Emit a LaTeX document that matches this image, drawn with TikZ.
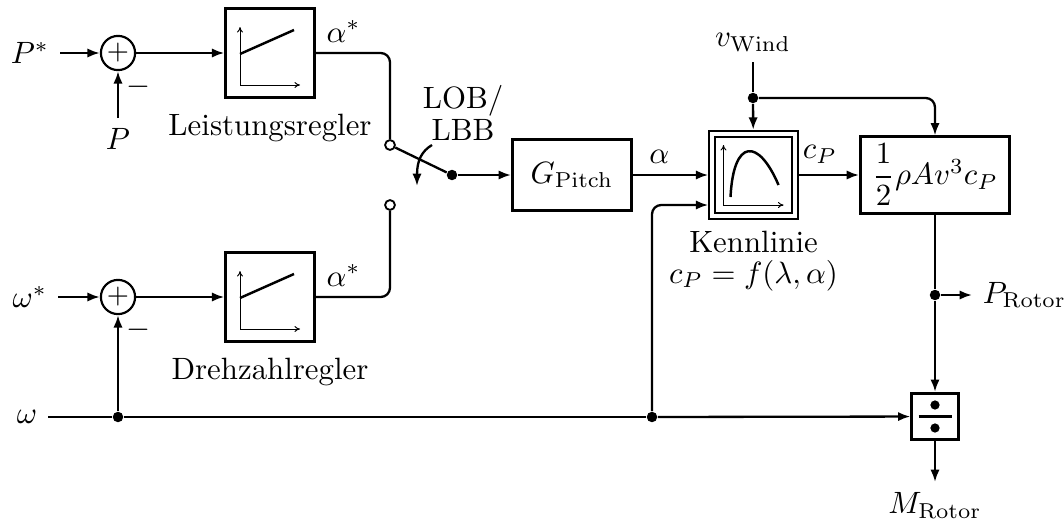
\documentclass[tikz,border=0pt]{standalone}
\usepackage{amsmath}
\usepackage{tikz}
\usetikzlibrary{arrows.meta,positioning,calc}
\tikzset{
  block/.style={
    draw,
    line width=0.9pt,
    inner sep=2pt,
  },
  regler/.style={
    block,
    minimum size=1.01cm,
  },
  kenn/.style={
    draw,
    double,
    line width=0.6pt,
    double distance=1.4pt,
    minimum size=0.94cm,
    outer sep=1.3pt,
  },
  sum/.style={
    draw,
    circle,
    line width=0.7pt,
    minimum size=0.39cm,
    inner sep=0pt,
    font=\small,
  },
  junction/.style={circle, fill, inner sep=0pt, minimum size=3.4pt},
  contact/.style={circle, draw, fill=white, line width=0.6pt, inner sep=0pt, minimum size=3.2pt},
  wire/.style={line width=0.75pt},
  arrow/.style={wire, -{Latex[length=4pt,width=3pt]}},
  achse/.style={line width=0.3pt, {To[length=1.8pt,width=2pt]}-{To[length=1.8pt,width=2pt]}},
  kurve/.style={line width=0.8pt},
}

\begin{document}
\begin{tikzpicture}[x=1.14cm,y=-1.14cm]
\useasboundingbox (0,0) rectangle (10.64,5.24);

% Leistungsregelung
\node[anchor=east] (Psoll) at (0.60,0.53) {$P^*$};
\node[sum] (sumP) at (1.18,0.53) {$+$};
\node[anchor=north] (Pist) at (1.18,1.18) {$P$};
\node (minP) at (1.38,0.87) {$-$};
\node[regler] (lr) at (2.70,0.53) {};
\node[below=0.5mm of lr] (lrlab) {Leistungsregler};
\node[anchor=south west] (alP) at (lr.east) {$\alpha^*$};

% Drehzahlregelung
\node[anchor=east] (omsoll) at (0.58,2.97) {$\omega^*$};
\node[sum] (sumW) at (1.18,2.97) {$+$};
\node (minW) at (1.38,3.30) {$-$};
\node[regler] (dr) at (2.70,2.97) {};
\node[below=0.5mm of dr] (drlab) {Drehzahlregler};
\node[anchor=south west] (alW) at (dr.east) {$\alpha^*$};

% Umschalter
\node[contact] (c1) at (3.90,1.45) {};
\node[contact] (c2) at (3.90,2.05) {};
\node[junction] (sw) at (4.52,1.75) {};
\node[align=center] (lob) at (4.63,1.13) {LOB/\\[-1.5pt]LBB};
\coordinate (swa) at (4.32,1.45);
\coordinate (swb) at (4.17,1.86);

% Strecke
\node[block,minimum width=1.36cm,minimum height=0.81cm] (pitch) at (5.72,1.75) {$G_{\mathrm{Pitch}}$};
\node[kenn] (kl) at (7.535,1.75) {};
\node[below=0mm of kl,align=center] (kllab) {Kennlinie\\[-2pt]$c_P=f(\lambda,\alpha)$};
\node[anchor=south] (vw) at (7.53,0.62) {$v_{\mathrm{Wind}}$};
\node[junction] (d3) at (7.53,0.98) {};
\node[block,minimum width=1.70cm,minimum height=0.87cm] (form) at (9.35,1.75) {$\dfrac{1}{2}\rho A v^3 c_P$};
\node[junction] (d4) at (9.35,2.95) {};
\node[anchor=west] (Prot) at (9.72,2.95) {$P_{\mathrm{Rotor}}$};
\node[block,minimum size=0.53cm,inner sep=0pt] (div) at (9.35,4.165) {};
\node[anchor=north] (Mrot) at (9.35,4.82) {$M_{\mathrm{Rotor}}$};

% Drehzahl
\node[anchor=east] (om) at (0.48,4.17) {$\omega$};
\node[junction] (d1) at (1.18,4.17) {};
\node[junction] (d2) at (6.52,4.17) {};

% Kennlinien in den Bloecken
\foreach \r in {lr,dr} {
  \draw[achse] ($(\r)+(-0.30,-0.26)$) |- ($(\r)+(0.30,0.32)$);
  \draw[kurve] ($(\r)+(-0.30,0.01)$) -- ($(\r)+(0.24,-0.23)$);
}
\draw[achse] ($(kl)+(-0.30,-0.30)$) |- ($(kl)+(0.30,0.30)$);
\draw[kurve] ($(kl)+(-0.23,0.22)$) .. controls ($(kl)+(-0.20,-0.37)$) and ($(kl)+(0.05,-0.37)$) .. ($(kl)+(0.25,0.10)$);
\fill ($(div)+(0,-0.115)$) circle (1.5pt);
\fill ($(div)+(0,0.115)$) circle (1.5pt);
\draw[wire] ($(div)+(-0.165,0)$) -- ($(div)+(0.165,0)$);

% Verbindungen
\draw[arrow] (Psoll) -- (sumP);
\draw[arrow] (Pist) -- (sumP);
\draw[arrow] (sumP) -- (lr);
\draw[wire,rounded corners=3pt] (lr.east) -| (c1);
\draw[arrow] (omsoll) -- (sumW);
\draw[arrow] (sumW) -- (dr);
\draw[wire,rounded corners=3pt] (dr.east) -| (c2);
\draw[wire] (c1) -- (sw);
\draw[arrow] (swa) .. controls (4.22,1.51) and (4.17,1.60) .. (swb);
\draw[arrow] (sw) -- (pitch);
\draw[arrow] (pitch) -- node[above,pos=0.35] (al) {$\alpha$} (kl);
\draw[wire] (vw) -- (d3);
\draw[arrow] (d3) -- (kl);
\draw[arrow,rounded corners=3pt] (d3) -| (form);
\draw[arrow] (kl) -- node[above,pos=0.35] (cp) {$c_P$} (form);
\draw[wire] (form) -- (d4);
\draw[arrow] (d4) -- (Prot);
\draw[arrow] (d4) -- (div);
\draw[arrow] (div) -- (Mrot);
\draw[wire] (om) -- (d1) -- (d2);
\draw[arrow] (d2) -- (div);
\draw[arrow] (d1) -- (sumW);
\draw[arrow,rounded corners=3pt] (d2) |- ($(kl.west)+(0,0.30)$);

\end{tikzpicture}
\end{document}
